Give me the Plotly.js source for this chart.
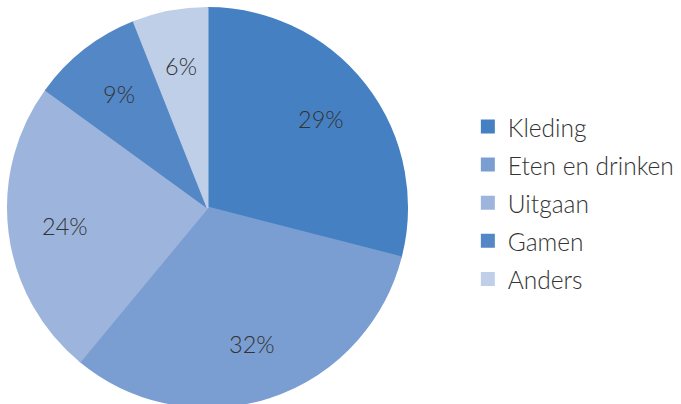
<!DOCTYPE html>
<html>
<head>
<meta charset="utf-8">
<script src="https://cdn.plot.ly/plotly-3.0.1.min.js"></script>
<style>html,body{margin:0;padding:0;overflow:hidden;background:#fff;}</style>
</head>
<body>
<div id="chart" style="width:681px;height:410px;"></div>
<script>
var categories = ["Kleding", "Eten en drinken", "Uitgaan", "Gamen", "Anders"];
var values = [29, 32, 24, 9, 6];
var colors = ["#4580c2", "#7a9ed2", "#9db5dd", "#5487c6", "#bfcfe8"];

var W = 681, H = 410;
var cx = 207.5, cy = 207.5, R = 199.5;   // pie centre / radius in px
var dom = {x: [(cx - R) / W, (cx + R) / W], y: [(H - cy - R) / H, (H - cy + R) / H]};

var trace = {
  type: "pie",
  labels: categories.map(function (c) { return '<span style="font-size:24.5px">' + c + '</span>'; }),
  values: values,
  sort: false,
  direction: "clockwise",
  rotation: 0,
  marker: {colors: colors, line: {width: 2, color: colors}},
  textinfo: "none",
  hoverinfo: "label+percent",
  domain: dom
};

// percentage labels placed at a fixed fraction of the radius, at each slice's mid-angle
var total = values.reduce(function (a, b) { return a + b; }, 0);
var annotations = [];
var cum = 0;
values.forEach(function (v) {
  var mid = (cum + v / 2) / total * 2 * Math.PI;
  cum += v;
  var f = 0.72;
  var px = cx + R * f * Math.sin(mid);
  var py = cy - R * f * Math.cos(mid);
  annotations.push({
    xref: "paper", yref: "paper", x: px / W, y: 1 - py / H,
    xanchor: "center", yanchor: "middle", showarrow: false,
    text: Math.round(v / total * 100) + "%",
    font: {family: "Lato", size: 23.5, color: "#333333", weight: 300}
  });
});

var layout = {
  width: W, height: H,
  margin: {l: 0, r: 0, t: 0, b: 0},
  paper_bgcolor: "#ffffff",
  showlegend: true,
  legend: {x: 0.687, y: 0.505, xanchor: "left", yanchor: "middle",
           font: {family: "Lato", size: 27, color: "#333333", weight: 300}, traceorder: "normal"},
  annotations: annotations,
  font: {family: "Lato"}
};
Plotly.newPlot("chart", [trace], layout, {displayModeBar: false, staticPlot: true});
</script>
</body>
</html>
